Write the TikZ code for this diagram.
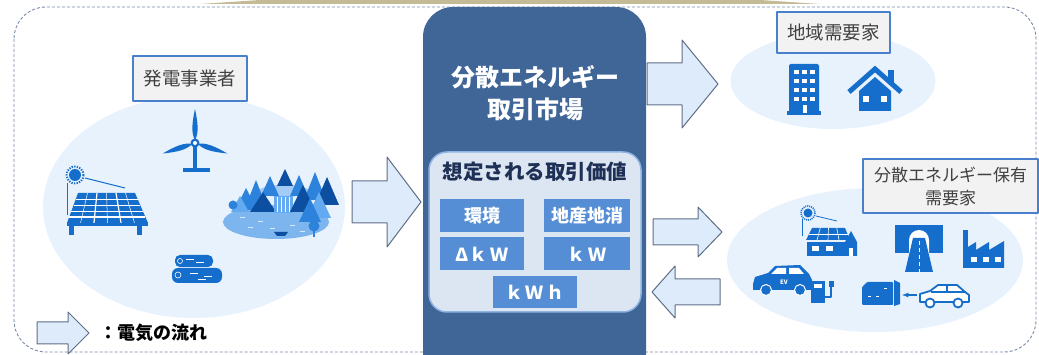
\documentclass[tikz,border=0pt]{standalone}
\usepackage{fontspec}
\setmainfont{Noto Sans CJK JP}
\usetikzlibrary{shapes.geometric,positioning}

\definecolor{marketblue}{RGB}{64,102,152}
\definecolor{valuebg}{RGB}{220,230,242}
\definecolor{valueedge}{RGB}{141,179,226}
\definecolor{cellblue}{RGB}{85,142,213}
\definecolor{tagedge}{RGB}{72,128,205}
\definecolor{fieldblue}{RGB}{231,242,253}
\definecolor{labelbg}{RGB}{242,242,242}
\definecolor{iconblue}{RGB}{22,110,204}
\definecolor{arrowbg}{RGB}{221,235,250}
\definecolor{arrowedge}{RGB}{95,110,135}
\definecolor{framegray}{RGB}{120,138,168}
\definecolor{tanstrip}{RGB}{196,186,150}
\definecolor{navytext}{RGB}{31,48,86}
\definecolor{tdark}{RGB}{12,78,160}
\definecolor{tmid}{RGB}{45,130,220}
\definecolor{tlight}{RGB}{100,170,240}
\definecolor{lakeblue}{RGB}{125,182,238}

% wide flow arrow: tail x, head base x, tip x, centre y, half shaft, half head
\newcommand{\flowarrow}[6]{%
  \filldraw[flow] (#1,#4-#5) -- (#2,#4-#5) -- (#2,#4-#6) -- (#3,#4)
    -- (#2,#4+#6) -- (#2,#4+#5) -- (#1,#4+#5) -- cycle;}

\begin{document}
\begin{tikzpicture}[x=1pt,y=-1pt,line join=round]
  \tikzstyle{field}=[ellipse,fill=fieldblue,inner sep=0pt]
  \tikzstyle{tag}=[draw=tagedge,line width=2.5pt,fill=labelbg,text=black!75,inner sep=0pt,
                   align=center,font=\fontsize{18.5}{23}\selectfont]
  \tikzstyle{marketbox}=[fill=marketblue,rounded corners=30pt,inner sep=0pt]
  \tikzstyle{valuebox}=[fill=valuebg,draw=valueedge,line width=1.5pt,rounded corners=18pt,inner sep=0pt]
  \tikzstyle{val}=[fill=cellblue,text=white,minimum width=84pt,minimum height=33pt,inner sep=0pt,
                   font=\bfseries\fontsize{18}{20}\selectfont]
  \tikzstyle{flow}=[fill=arrowbg,draw=arrowedge,line width=1pt]

  \clip (0,0) rectangle (1039,355);
  \fill[tanstrip] (200,4) -- (260,0) -- (760,0) -- (820,4) -- cycle;
  \draw[framegray,densely dashed,line width=0.9pt,rounded corners=32pt] (14,7) rectangle (1036,352);

  % areas
  \node[field,minimum width=302pt,minimum height=222pt] (gen) at (194,207) {};
  \node[field,minimum width=205pt,minimum height=96pt] (local) at (833,81) {};
  \node[field,minimum width=296pt,minimum height=144pt] (der) at (875,260) {};

  \node[tag,minimum width=114pt,minimum height=45pt] (genlabel) at (190,78.5) {発電事業者};
  \node[tag,minimum width=113pt,minimum height=41pt] (locallabel) at (833.5,32.5) {地域需要家};
  \node[tag,minimum width=175pt,minimum height=54pt,font=\fontsize{17}{23}\selectfont]
    (derlabel) at (950.5,186) {分散エネルギー保有\\需要家};

  % market
  \node[marketbox,minimum width=223pt,minimum height=380pt] (market) at (534.5,197) {};
  \node[text=white,align=center,font=\bfseries\fontsize{24}{32}\selectfont] (title) at (535,93)
    {分散エネルギー\\取引市場};
  \node[valuebox,minimum width=212pt,minimum height=160pt] (values) at (535,232) {};
  \node[text=navytext,font=\bfseries\fontsize{20.5}{24}\selectfont] (valtitle) at (535,172) {想定される取引価値};
  \node[val] (env) at (482,215.5) {環境};
  \node[val,minimum width=86pt] (chisan) at (587,215.5) {地産地消};
  \node[val,below=5pt of env] (dkw) {Δｋ\,Ｗ};
  \node[val,minimum width=86pt,below=5pt of chisan] (kw) {ｋ\,Ｗ};
  \node[val,minimum height=32pt] (kwh) at (535,292) {ｋ\,Ｗ\,ｈ};

  % flows
  \flowarrow{352}{387}{421}{202}{21}{45}
  \flowarrow{647}{682}{718}{84}{21}{44}
  \flowarrow{653}{698}{722}{232}{13}{25}
  \flowarrow{720}{675}{652}{292}{13}{26}
  \flowarrow{37}{68}{89}{333}{11}{21}
  \node[anchor=west,font=\bfseries\fontsize{18}{20}\selectfont] (legend) at (96,333) {：電気の流れ};

  % wind turbine
  \fill[iconblue] (193.3,145) rectangle (196.7,170);
  \fill[iconblue] (183,168.5) rectangle (210,172);
  \foreach \a in {90,198,342}
    \fill[iconblue,rotate around={\a:(195,143)}] (198,143) .. controls (205,139) and (215,140) .. (229,143)
      .. controls (215,146) and (205,147) .. (198,143);
  \fill[iconblue] (195,143) circle[radius=4.5];
  \fill[white] (195,143) circle[radius=2];

  % solar panel
  \draw[iconblue,line width=2pt,dash pattern=on 1.3pt off 1.3pt] (75,175) circle[radius=8.5];
  \fill[iconblue] (75,175) circle[radius=6];
  \draw[iconblue,line width=1pt] (85,178) -- (125,188);
  \draw[iconblue,line width=1pt] (67,183) -- (67,215);
  \fill[iconblue] (78,193) -- (135,193) -- (148,223) -- (67,223) -- cycle;
  \foreach \t in {0.2,0.4,0.6}
    \draw[white,line width=0.5pt] (78-11*\t,193+30*\t) -- (135+13*\t,193+30*\t);
  \draw[white,line width=1.2pt] (78-11*0.8,193+24) -- (135+13*0.8,193+24);
  \foreach \u in {0.167,0.5,0.833}
    \draw[white,line width=0.5pt] (78+57*\u,193) -- (67+81*\u,223);
  \foreach \u in {0.333,0.667}
    \draw[white,line width=1.2pt] (78+57*\u,193) -- (67+81*\u,223);
  \fill[iconblue] (67,223) rectangle (148,226);
  \fill[iconblue] (69,223) rectangle (74,235);
  \fill[iconblue] (137,223) rectangle (142,235);

  % dam and forest
  \fill[lakeblue] (276,222) ellipse[x radius=53,y radius=17];
  \fill[tlight!60] (284,191) ellipse[x radius=25,y radius=6];
  \foreach \x/\top/\base/\w/\c in {270/176/196/9/tmid,285/169/186/8/tdark,299/175/196/9/tmid,
      315/172/200/11/tmid,327/177/205/12/tdark,256/180/208/11/tmid,246/188/210/11/tmid,
      240/196/212/9/tlight,263/192/212/13/tdark}
    \fill[\c] (\x,\top) -- (\x+\w,\base) -- (\x-\w,\base) -- cycle;
  \fill[tlight] (274,196) rectangle (293,213);
  \foreach \x in {277,281,285,289}
    \draw[white,line width=1pt] (\x,197) -- (\x,212);
  \foreach \x/\top/\base/\w/\c in {303/185/212/13/tdark,319/192/218/12/tlight,310/198/222/11/tmid}
    \fill[\c] (\x,\top) -- (\x+\w,\base) -- (\x-\w,\base) -- cycle;
  \fill[tmid] (233,205) circle[radius=4.5];
  \fill[tmid] (314,226) circle[radius=5.5];
  \fill[tmid] (313,228) rectangle (315,237);
  \foreach \x/\y in {240/218,258/222,248/228,270/229,290/226,300/232}
    \draw[white!70!lakeblue,line width=1pt] (\x,\y) -- (\x+5,\y);
  \fill[tdark] (274,232) -- (288,232) -- (285,236) -- (277,236) -- cycle;

  % logs
  \fill[iconblue,rounded corners=5pt] (175,255) rectangle (213,267);
  \fill[iconblue,rounded corners=6pt] (172,268) rectangle (222,283);
  \foreach \x/\y in {186/259,196/262,190/273,204/276,198/279}
    \draw[white,line width=0.8pt] (\x,\y) -- (\x+8,\y);
  \draw[white,line width=0.6pt] (180,261) circle[radius=2.5];
  \draw[white,line width=0.6pt] (178,275) circle[radius=3];

  % building
  \fill[iconblue,rounded corners=2pt] (789,64) rectangle (819,113);
  \fill[iconblue] (787,111) rectangle (821,115);
  \foreach \x in {794,802,810}
    \foreach \y in {70,79,88,97}
      \fill[white] (\x,\y) rectangle (\x+4.5,\y+4.5);
  \fill[white] (802.5,105) rectangle (806.5,113);

  % house
  \fill[iconblue] (888,70) rectangle (894,84);
  \draw[iconblue,line width=5pt,line join=miter] (849,92) -- (875,69) -- (901,92);
  \fill[iconblue] (859,91) -- (875,77) -- (891,91) -- (891,111) -- (859,111) -- cycle;
  \fill[white] (863,96) rectangle (869,102);
  \fill[white] (881,96) rectangle (887,102);

  % house with solar roof
  \draw[iconblue,line width=1.6pt,dash pattern=on 1pt off 1pt] (808,213) circle[radius=7];
  \fill[iconblue] (808,213) circle[radius=4.5];
  \draw[iconblue,line width=0.8pt] (816,216) -- (837,221);
  \draw[iconblue,line width=0.8pt] (802,219) -- (802,236);
  \fill[iconblue] (812,228) -- (845,228) -- (850,240) -- (806,240) -- cycle;
  \foreach \u in {0.25,0.5,0.75}
    \draw[white,line width=0.6pt] (812+33*\u,228) -- (806+44*\u,240);
  \draw[white,line width=0.6pt] (809,234) -- (847.5,234);
  \fill[iconblue] (807,242) rectangle (845,256);
  \fill[white] (812,246) rectangle (819,251);
  \fill[white] (826,246) rectangle (833,251);
  \fill[iconblue] (845,242) -- (851,231) -- (857,242) -- (857,256) -- (845,256) -- cycle;
  \fill[white] (849,248) rectangle (853,256);

  % electric car and charger
  \fill[iconblue] (753,284) -- (755,277) -- (768,273) -- (775,266) -- (800,265) -- (809,274)
    -- (812,280) -- (812,290) -- (753,290) -- cycle;
  \fill[white] (777,268) -- (786,268) -- (786,274) -- (771,274) -- cycle;
  \fill[white] (789,268) -- (799,268) -- (804,274) -- (789,274) -- cycle;
  \node[text=white,inner sep=0pt,font=\bfseries\fontsize{6}{6}\selectfont] (ev) at (784,282) {EV};
  \filldraw[fill=iconblue,draw=white,line width=1pt] (766,290) circle[radius=5.5];
  \filldraw[fill=iconblue,draw=white,line width=1pt] (800,290) circle[radius=5.5];
  \fill[iconblue] (811,281) rectangle (825,303);
  \fill[white] (814,284) rectangle (822,288);
  \draw[iconblue,line width=1.2pt] (825,297) -- (831,297) -- (831,287);
  \fill[iconblue] (829,281) rectangle (834,287);

  % tunnel
  \fill[iconblue] (895,225) rectangle (943,253);
  \fill[white] (909,253) -- (909,240) arc[start angle=180,end angle=360,radius=10] -- (929,253) -- cycle;
  \fill[iconblue] (913,238) -- (925,238) -- (933,272) -- (905,272) -- cycle;
  \draw[white,line width=1pt,dash pattern=on 4pt off 3pt] (919,241) -- (919,272);

  % factory
  \fill[iconblue] (963,230) rectangle (968,268);
  \fill[iconblue] (963,268) -- (963,250) -- (976,242) -- (976,250) -- (989,242) -- (989,250)
    -- (1004,241) -- (1004,268) -- cycle;
  \foreach \x in {971,983,995}
    \fill[white] (\x,257) rectangle (\x+6,262);

  % storage unit fed by car
  \fill[iconblue,rounded corners=1pt] (862,287) -- (867,282) -- (893,282) -- (893,305) -- (862,305) -- cycle;
  \fill[iconblue] (894,280) -- (900,283) -- (900,304) -- (894,306) -- cycle;
  \foreach \x/\y in {868/296,876/296,884/288}
    \fill[white] (\x,\y) rectangle (\x+3,\y+1.5);
  \draw[iconblue,line width=1.2pt,-latex] (917,295) -- (902,295);
  \draw[iconblue,line width=1.8pt,fill=white] (920,302) -- (920,294) -- (930,291) -- (938,285) -- (957,285)
    -- (965,292) -- (969,295) -- (969,302) -- cycle;
  \draw[iconblue,line width=1.2pt] (947,285) -- (947,292) (931,292) -- (966,292);
  \filldraw[fill=white,draw=iconblue,line width=1.8pt] (930,303) circle[radius=4.5];
  \filldraw[fill=white,draw=iconblue,line width=1.8pt] (958,303) circle[radius=4.5];
\end{tikzpicture}
\end{document}
